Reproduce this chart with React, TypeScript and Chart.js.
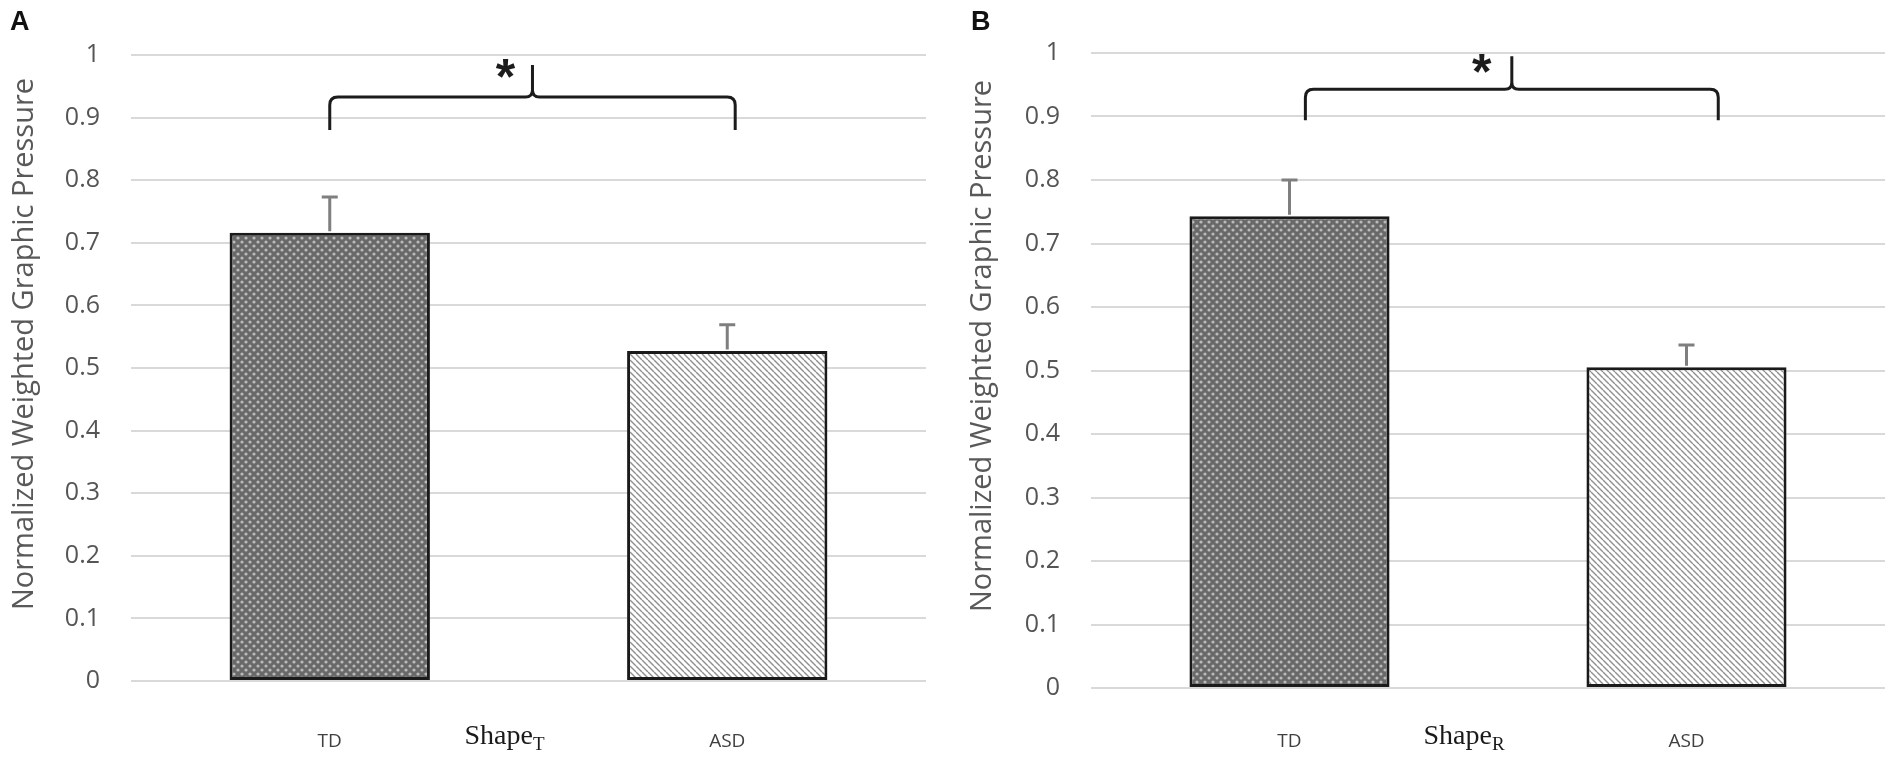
import React, { useEffect, useRef } from 'react';
import { Chart, registerables } from 'chart.js';

Chart.register(...registerables);

// ---- data ----
const categories = ['TD', 'ASD'];
const yTickLabels = ['0', '0.1', '0.2', '0.3', '0.4', '0.5', '0.6', '0.7', '0.8', '0.9', '1'];
const shapeTMeans = [0.716, 0.527];
const shapeTErrors = [0.057, 0.042];
const shapeRMeans = [0.743, 0.505];
const shapeRErrors = [0.057, 0.035];
const yTitle = 'Normalized Weighted Graphic Pressure';
const sigMark = '*';

const H = 757;

interface PanelLayout {
  left: number;
  width: number;
  letterLeft: number;
  plotLeft: number;
  plotRight: number;
  plotTop: number;
  plotBottom: number;
  xTickPad: number;
  titleX: number;
  titleY: number;
  // brace, in category index / value units
  brace: { from: number; to: number; line: number; ends: number; peak: number };
  starDx: number;
  starY: number;
  shapeDx: number;
  shapeBaseline: number;
}

const makeDots = (): CanvasPattern | string => {
  const c = document.createElement('canvas');
  c.width = 8;
  c.height = 8;
  const g = c.getContext('2d');
  if (!g) return '#808080';
  g.fillStyle = '#696969';
  g.fillRect(0, 0, 8, 8);
  g.fillStyle = '#bababa';
  [[2, 2], [6, 6]].forEach(([x, y]) => {
    g.beginPath();
    g.arc(x, y, 1.6, 0, Math.PI * 2);
    g.fill();
  });
  return g.createPattern(c, 'repeat') ?? '#808080';
};

const makeStripes = (): CanvasPattern | string => {
  const c = document.createElement('canvas');
  c.width = 6;
  c.height = 6;
  const g = c.getContext('2d');
  if (!g) return '#dddddd';
  g.fillStyle = '#ffffff';
  g.fillRect(0, 0, 6, 6);
  g.strokeStyle = '#8f8f8f';
  g.lineWidth = 1.4;
  [-6, 0, 6].forEach((o) => {
    g.beginPath();
    g.moveTo(o, 0);
    g.lineTo(o + 6, 6);
    g.stroke();
  });
  return g.createPattern(c, 'repeat') ?? '#dddddd';
};

const Panel: React.FC<{
  letter: string;
  sub: string;
  means: number[];
  errors: number[];
  lay: PanelLayout;
}> = ({ letter, sub, means, errors, lay }) => {
  const canvasRef = useRef<HTMLCanvasElement>(null);
  const chartInstance = useRef<Chart | null>(null);

  useEffect(() => {
    if (!canvasRef.current) return;
    const ctx = canvasRef.current.getContext('2d');
    if (!ctx) return;
    if (chartInstance.current) chartInstance.current.destroy();

    const extras = {
      id: 'extras',
      afterDatasetsDraw(chart: any) {
        const c = chart.ctx;
        const ys = chart.scales.y;
        const meta = chart.getDatasetMeta(0);

        // error bars (upper only)
        c.save();
        c.strokeStyle = '#7f7f7f';
        c.lineWidth = 3;
        means.forEach((m, i) => {
          const x = meta.data[i].x;
          const y0 = ys.getPixelForValue(m);
          const y1 = ys.getPixelForValue(m + errors[i]);
          c.beginPath();
          c.moveTo(x, y0 - 1.5);
          c.lineTo(x, y1);
          c.moveTo(x - 8, y1);
          c.lineTo(x + 8, y1);
          c.stroke();
        });
        c.restore();
      },
      afterDraw(chart: any) {
        const c = chart.ctx;
        const xs = chart.scales.x;
        const ys = chart.scales.y;
        const b = lay.brace;
        const x0 = xs.getPixelForValue(b.from);
        const x1 = xs.getPixelForValue(b.to);
        const xm = (x0 + x1) / 2;
        const yl = ys.getPixelForValue(b.line);
        const ye = ys.getPixelForValue(b.ends);
        const yp = ys.getPixelForValue(b.peak);
        const r = 8;
        const rp = 7;

        c.save();
        c.strokeStyle = '#1c1c1c';
        c.lineWidth = 3;
        c.lineJoin = 'round';
        c.beginPath();
        c.moveTo(x0, ye);
        c.lineTo(x0, yl + r);
        c.quadraticCurveTo(x0, yl, x0 + r, yl);
        c.lineTo(xm - rp, yl);
        c.quadraticCurveTo(xm, yl, xm, yl - rp);
        c.lineTo(xm, yp);
        c.moveTo(xm, yl - rp);
        c.quadraticCurveTo(xm, yl, xm + rp, yl);
        c.lineTo(x1 - r, yl);
        c.quadraticCurveTo(x1, yl, x1, yl + r);
        c.lineTo(x1, ye);
        c.stroke();

        // significance star
        c.fillStyle = '#1c1c1c';
        c.font = 'bold 50px "Liberation Sans"';
        c.textAlign = 'center';
        c.textBaseline = 'alphabetic';
        const mt = c.measureText(sigMark);
        const base = lay.starY - (mt.actualBoundingBoxDescent - mt.actualBoundingBoxAscent) / 2;
        c.fillText(sigMark, xm + lay.starDx, base);

        // y axis title
        c.fillStyle = '#595959';
        c.font = '29px "Open Sans"';
        c.translate(lay.titleX, lay.titleY);
        c.rotate(-Math.PI / 2);
        c.textAlign = 'center';
        c.textBaseline = 'middle';
        c.fillText(yTitle, 0, 0);
        c.restore();

        // group label: Shape with subscript
        c.save();
        const cx = (xs.getPixelForValue(0) + xs.getPixelForValue(1)) / 2 + lay.shapeDx;
        c.fillStyle = '#1a1a1a';
        c.textAlign = 'left';
        c.textBaseline = 'alphabetic';
        c.font = '28px "Liberation Serif"';
        const w1 = c.measureText('Shape').width;
        c.font = '19px "Liberation Serif"';
        const w2 = c.measureText(sub).width;
        const sx = cx - (w1 + w2) / 2;
        c.font = '28px "Liberation Serif"';
        c.fillText('Shape', sx, lay.shapeBaseline);
        c.font = '19px "Liberation Serif"';
        c.fillText(sub, sx + w1, lay.shapeBaseline + 6);
        c.restore();
      },
    };

    chartInstance.current = new Chart(ctx, {
      type: 'bar',
      data: {
        labels: categories,
        datasets: [
          {
            data: means,
            backgroundColor: [makeDots(), makeStripes()] as any,
            borderColor: '#1a1a1a',
            borderWidth: 3,
            borderSkipped: false,
            categoryPercentage: 1,
            barPercentage: 0.504,
          },
        ],
      },
      options: {
        animation: false,
        responsive: true,
        maintainAspectRatio: false,
        layout: {
          padding: { left: 0, top: lay.plotTop, right: lay.width - lay.plotRight, bottom: 0 },
        },
        plugins: {
          legend: { display: false },
          tooltip: { enabled: false },
        },
        scales: {
          x: {
            grid: { display: false },
            border: { display: false },
            ticks: {
              color: '#404040',
              padding: lay.xTickPad,
              font: { family: 'Open Sans', size: 19 },
            },
            afterFit: (s: any) => {
              s.height = H - lay.plotBottom;
            },
          },
          y: {
            min: 0,
            max: 1,
            grid: { color: '#d9d9d9', lineWidth: 2, drawTicks: false },
            border: { display: false },
            ticks: {
              stepSize: 0.1,
              padding: 31,
              color: '#555555',
              font: { family: 'Open Sans', size: 25 },
              callback: (_v: any, i: number) => yTickLabels[i],
            },
            afterFit: (s: any) => {
              s.width = lay.plotLeft;
            },
          },
        },
      },
      plugins: [extras],
    });

    return () => {
      if (chartInstance.current) {
        chartInstance.current.destroy();
        chartInstance.current = null;
      }
    };
  }, [means, errors, sub, lay]);

  return (
    <div style={{ position: 'absolute', left: lay.left, top: 0, width: lay.width, height: H }}>
      <canvas ref={canvasRef}></canvas>
      <div
        style={{
          position: 'absolute',
          left: lay.letterLeft,
          top: 8,
          fontFamily: '"Liberation Sans", Arial, sans-serif',
          fontWeight: 'bold',
          fontSize: 27,
          lineHeight: 1,
          color: '#111',
        }}
      >
        {letter}
      </div>
    </div>
  );
};

const layoutA: PanelLayout = {
  left: 0,
  width: 950,
  letterLeft: 10,
  plotLeft: 131,
  plotRight: 926,
  plotTop: 55,
  plotBottom: 681,
  xTickPad: 41,
  titleX: 25,
  titleY: 344,
  brace: { from: 0, to: 1.02, line: 0.933, ends: 0.88, peak: 0.984 },
  starDx: -27,
  starY: 68,
  shapeDx: -24,
  shapeBaseline: 744,
};

const layoutB: PanelLayout = {
  left: 955,
  width: 949,
  letterLeft: 16,
  plotLeft: 136,
  plotRight: 930,
  plotTop: 53,
  plotBottom: 688,
  xTickPad: 34,
  titleX: 28,
  titleY: 346,
  brace: { from: 0.04, to: 1.08, line: 0.943, ends: 0.894, peak: 0.995 },
  starDx: -30,
  starY: 63,
  shapeDx: -24,
  shapeBaseline: 744,
};

export default function App() {
  return (
    <div style={{ position: 'absolute', left: 0, top: 0, width: 1904, height: H, background: '#fff' }}>
      <Panel letter="A" sub="T" means={shapeTMeans} errors={shapeTErrors} lay={layoutA} />
      <Panel letter="B" sub="R" means={shapeRMeans} errors={shapeRErrors} lay={layoutB} />
    </div>
  );
}
